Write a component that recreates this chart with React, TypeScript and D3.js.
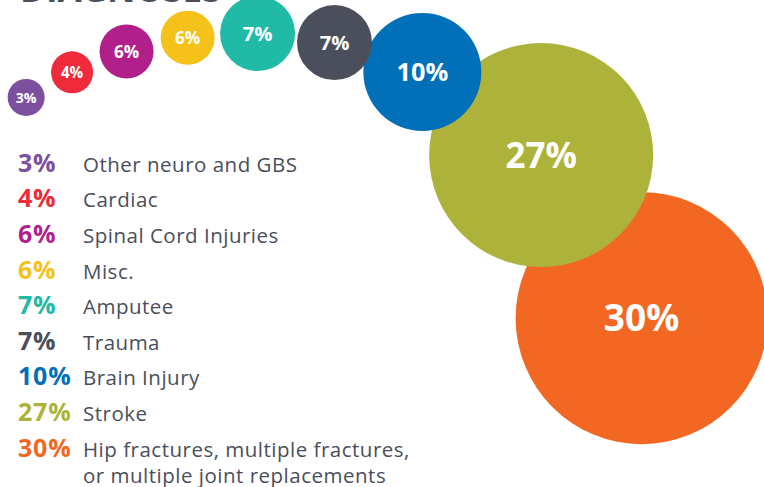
import React, { useRef, useEffect } from "react";
import * as d3 from "d3";

// diagnoses share (%)
const categories = [
  "Other neuro and GBS",
  "Cardiac",
  "Spinal Cord Injuries",
  "Misc.",
  "Amputee",
  "Trauma",
  "Brain Injury",
  "Stroke",
  "Hip fractures, multiple fractures,\nor multiple joint replacements",
];
const shares = [3, 4, 6, 6, 7, 7, 10, 27, 30];
const title = "DIAGNOSES";

const palette = [
  "#7d4f9f",
  "#ee2a3b",
  "#b11f8b",
  "#f5c11b",
  "#21baa6",
  "#4a4f5b",
  "#0170b9",
  "#adb33a",
  "#f26722",
];

const width = 764;
const height = 487;
const textColor = "#4a4e5a";
const font = "'Open Sans', 'Noto Sans', sans-serif";

const App: React.FC = () => {
  const ref = useRef<SVGSVGElement | null>(null);

  useEffect(() => {
    const svg = d3.select(ref.current);
    svg.selectAll("*").remove();

    const color = d3.scaleOrdinal<number, string>().domain(d3.range(shares.length)).range(palette);

    // bubble size, hand tuned like the original artwork
    const radius = d3
      .scaleLinear()
      .domain([3, 4, 6, 7, 10, 27, 30])
      .range([18.5, 21, 27, 37.5, 59, 112, 126]);

    // bubbles are chained along a large arc
    const arc = { cx: 247.6, cy: 448.4, r: 415, start: -32.25 };
    let angle = arc.start;
    const nodes = shares.map((v, i) => {
      const r = radius(v);
      if (i > 0) angle += 3.36 + 0.098 * (radius(shares[i - 1]) + r);
      const a = (angle * Math.PI) / 180;
      return {
        i,
        v,
        r,
        x: arc.cx + arc.r * Math.sin(a),
        y: arc.cy - arc.r * Math.cos(a),
      };
    });

    // cropped heading at the very top
    svg
      .append("text")
      .attr("x", 20)
      .attr("y", 1.5)
      .attr("fill", "#4a4f5b")
      .style("font-family", font)
      .style("font-weight", 700)
      .style("font-size", "35px")
      .text(title);

    // bubbles, largest drawn first
    const bubbles = svg
      .append("g")
      .selectAll("g")
      .data([...nodes].reverse())
      .enter()
      .append("g");

    bubbles
      .append("circle")
      .attr("cx", (d) => d.x)
      .attr("cy", (d) => d.y)
      .attr("r", (d) => d.r)
      .attr("fill", (d) => color(d.i));

    bubbles
      .append("text")
      .attr("x", (d) => d.x)
      .attr("y", (d) => d.y + 0.36 * 3.3 * Math.sqrt(d.r))
      .attr("text-anchor", "middle")
      .attr("fill", "#fff")
      .style("font-family", font)
      .style("font-weight", 700)
      .style("font-size", (d) => `${3.3 * Math.sqrt(d.r)}px`)
      .text((d) => `${d.v}%`);

    // legend
    const row = d3.scaleLinear().domain([0, shares.length - 1]).range([171.7, 456.7]);

    const legend = svg
      .append("g")
      .selectAll("g")
      .data(nodes)
      .enter()
      .append("g")
      .attr("transform", (d) => `translate(0,${row(d.i)})`);

    legend
      .append("text")
      .attr("x", 18)
      .attr("fill", (d) => color(d.i))
      .style("font-family", font)
      .style("font-weight", 700)
      .style("font-size", "25px")
      .style("letter-spacing", "0.8px")
      .text((d) => `${d.v}%`);

    legend
      .append("text")
      .attr("x", 83)
      .attr("fill", textColor)
      .style("font-family", font)
      .style("font-size", "20.5px")
      .style("letter-spacing", "0.5px")
      .each(function (d) {
        const lines = categories[d.i].split("\n");
        lines.forEach((line, k) => {
          d3.select(this)
            .append("tspan")
            .attr("x", 83)
            .attr("dy", k === 0 ? 0 : 26.6)
            .text(line);
        });
      });
  }, []);

  return (
    <svg
      ref={ref}
      width={width}
      height={height}
      style={{ position: "absolute", left: 0, top: 0, background: "#fff" }}
    />
  );
};

export default App;
